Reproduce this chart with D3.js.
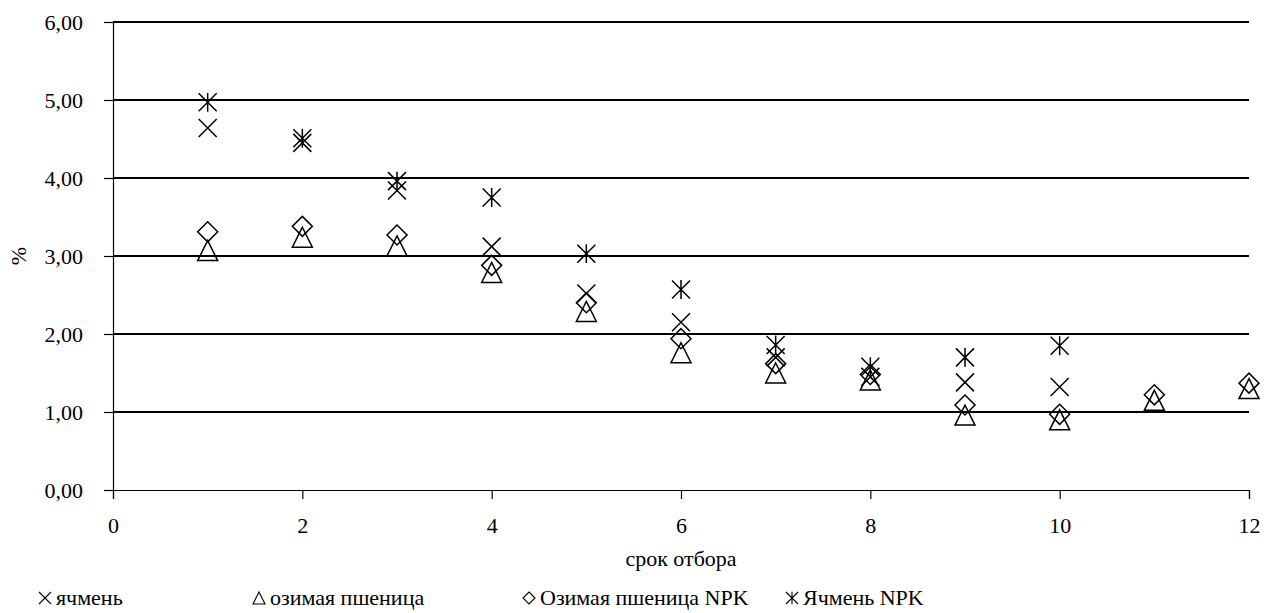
<!DOCTYPE html>
<html><head><meta charset="utf-8">
<script src="https://cdn.jsdelivr.net/npm/d3@7"></script>
<style>
body{margin:0;background:#fff}
svg{display:block}
svg text{font-family:"Times New Roman","Liberation Serif",Tinos,serif !important;font-size:22px;fill:#000}
</style>
</head><body>
<svg id="c" width="1266" height="613"></svg>
<script>
const xTicks = [0,2,4,6,8,10,12];
const yTicks = [0,1,2,3,4,5,6];
const xBarley = [1,2,3,4,5,6,7,8,9,10];
const barley = [4.64,4.45,3.84,3.12,2.52,2.15,1.70,1.45,1.38,1.32];
const xWheat = [1,2,3,4,5,6,7,8,9,10,11,12];
const wheat = [3.07,3.24,3.13,2.79,2.29,1.76,1.50,1.41,0.96,0.90,1.15,1.30];
const wheatNPK = [3.31,3.38,3.27,2.88,2.40,1.94,1.62,1.48,1.09,0.97,1.22,1.37];
const barleyNPK = [4.97,4.51,3.96,3.75,3.03,2.57,1.86,1.58,1.70,1.85];
const seriesNames = ["ячмень","озимая пшеница","Озимая пшеница NPK","Ячмень NPK"];

const FONT = '"Times New Roman"';
const svg = d3.select("#c");
const x = d3.scaleLinear().domain([0,12]).range([113,1249]);
const y = d3.scaleLinear().domain([0,6]).range([490,22]);
const fmt = d => d.toFixed(2).replace(".", ",");

svg.append("g").selectAll("line").data(yTicks.filter(d=>d>0)).join("line")
  .attr("x1",x(0)).attr("x2",x(12)).attr("y1",d=>y(d)).attr("y2",d=>y(d))
  .attr("stroke","#000").attr("stroke-width",1.2).attr("shape-rendering","crispEdges");

const yAxis = svg.append("g").attr("transform",`translate(${x(0)},0)`)
  .call(d3.axisLeft(y).tickValues(yTicks).tickFormat(fmt).tickSize(9).tickPadding(21));
const xAxis = svg.append("g").attr("transform",`translate(0,${y(0)})`)
  .call(d3.axisBottom(x).tickValues(xTicks).tickFormat(d=>d).tickSize(9).tickPadding(18));
[yAxis,xAxis].forEach(a=>{
  a.attr("font-family",FONT).attr("font-size",22);
  a.select(".domain").attr("stroke","#000").attr("stroke-width",1.2);
  a.selectAll(".tick line").attr("stroke","#000").attr("stroke-width",1.2);
  a.selectAll("text").attr("fill","#000").attr("font-family",FONT);
});
xAxis.selectAll("text").attr("dy","0.71em");

svg.append("text").attr("transform",`translate(26,${y(3)}) rotate(-90)`)
  .attr("text-anchor","middle").attr("font-family",FONT).text("%");
svg.append("text").attr("x",x(6)).attr("y",566).attr("text-anchor","middle")
  .attr("font-family",FONT).text("срок отбора");

function markerPath(type, s){
  const h = s/2;
  if(type==="x") return `M${-h},${-h}L${h},${h}M${-h},${h}L${h},${-h}`;
  if(type==="tri") return `M0,${-h}L${h},${h}L${-h},${h}Z`;
  if(type==="dia") return `M0,${-h}L${h},0L0,${h}L${-h},0Z`;
  if(type==="star") return `M${-h},${-h}L${h},${h}M${-h},${h}L${h},${-h}M0,${-h*1.05}L0,${h*1.05}`;
}
const series = [
  {name:seriesNames[0], xs:xBarley, ys:barley, type:"x", size:18},
  {name:seriesNames[1], xs:xWheat, ys:wheat, type:"tri", size:20},
  {name:seriesNames[2], xs:xWheat, ys:wheatNPK, type:"dia", size:20},
  {name:seriesNames[3], xs:xBarley, ys:barleyNPK, type:"star", size:18},
];
series.forEach(s=>{
  svg.append("g").selectAll("path").data(s.ys.map((v,i)=>[s.xs[i],v])).join("path")
    .attr("transform",d=>`translate(${x(d[0])},${y(d[1])})`)
    .attr("d",markerPath(s.type,s.size))
    .attr("fill","none").attr("stroke","#000").attr("stroke-width",1.5);
});

const legX = [45, 259, 529, 792];
series.forEach((s,i)=>{
  const g = svg.append("g").attr("transform",`translate(${legX[i]},598)`);
  g.append("path").attr("d",markerPath(s.type,12)).attr("fill","none").attr("stroke","#000").attr("stroke-width",1.1);
  g.append("text").attr("x",11).attr("y",7).attr("font-family",FONT).text(s.name);
});
</script></body></html>
